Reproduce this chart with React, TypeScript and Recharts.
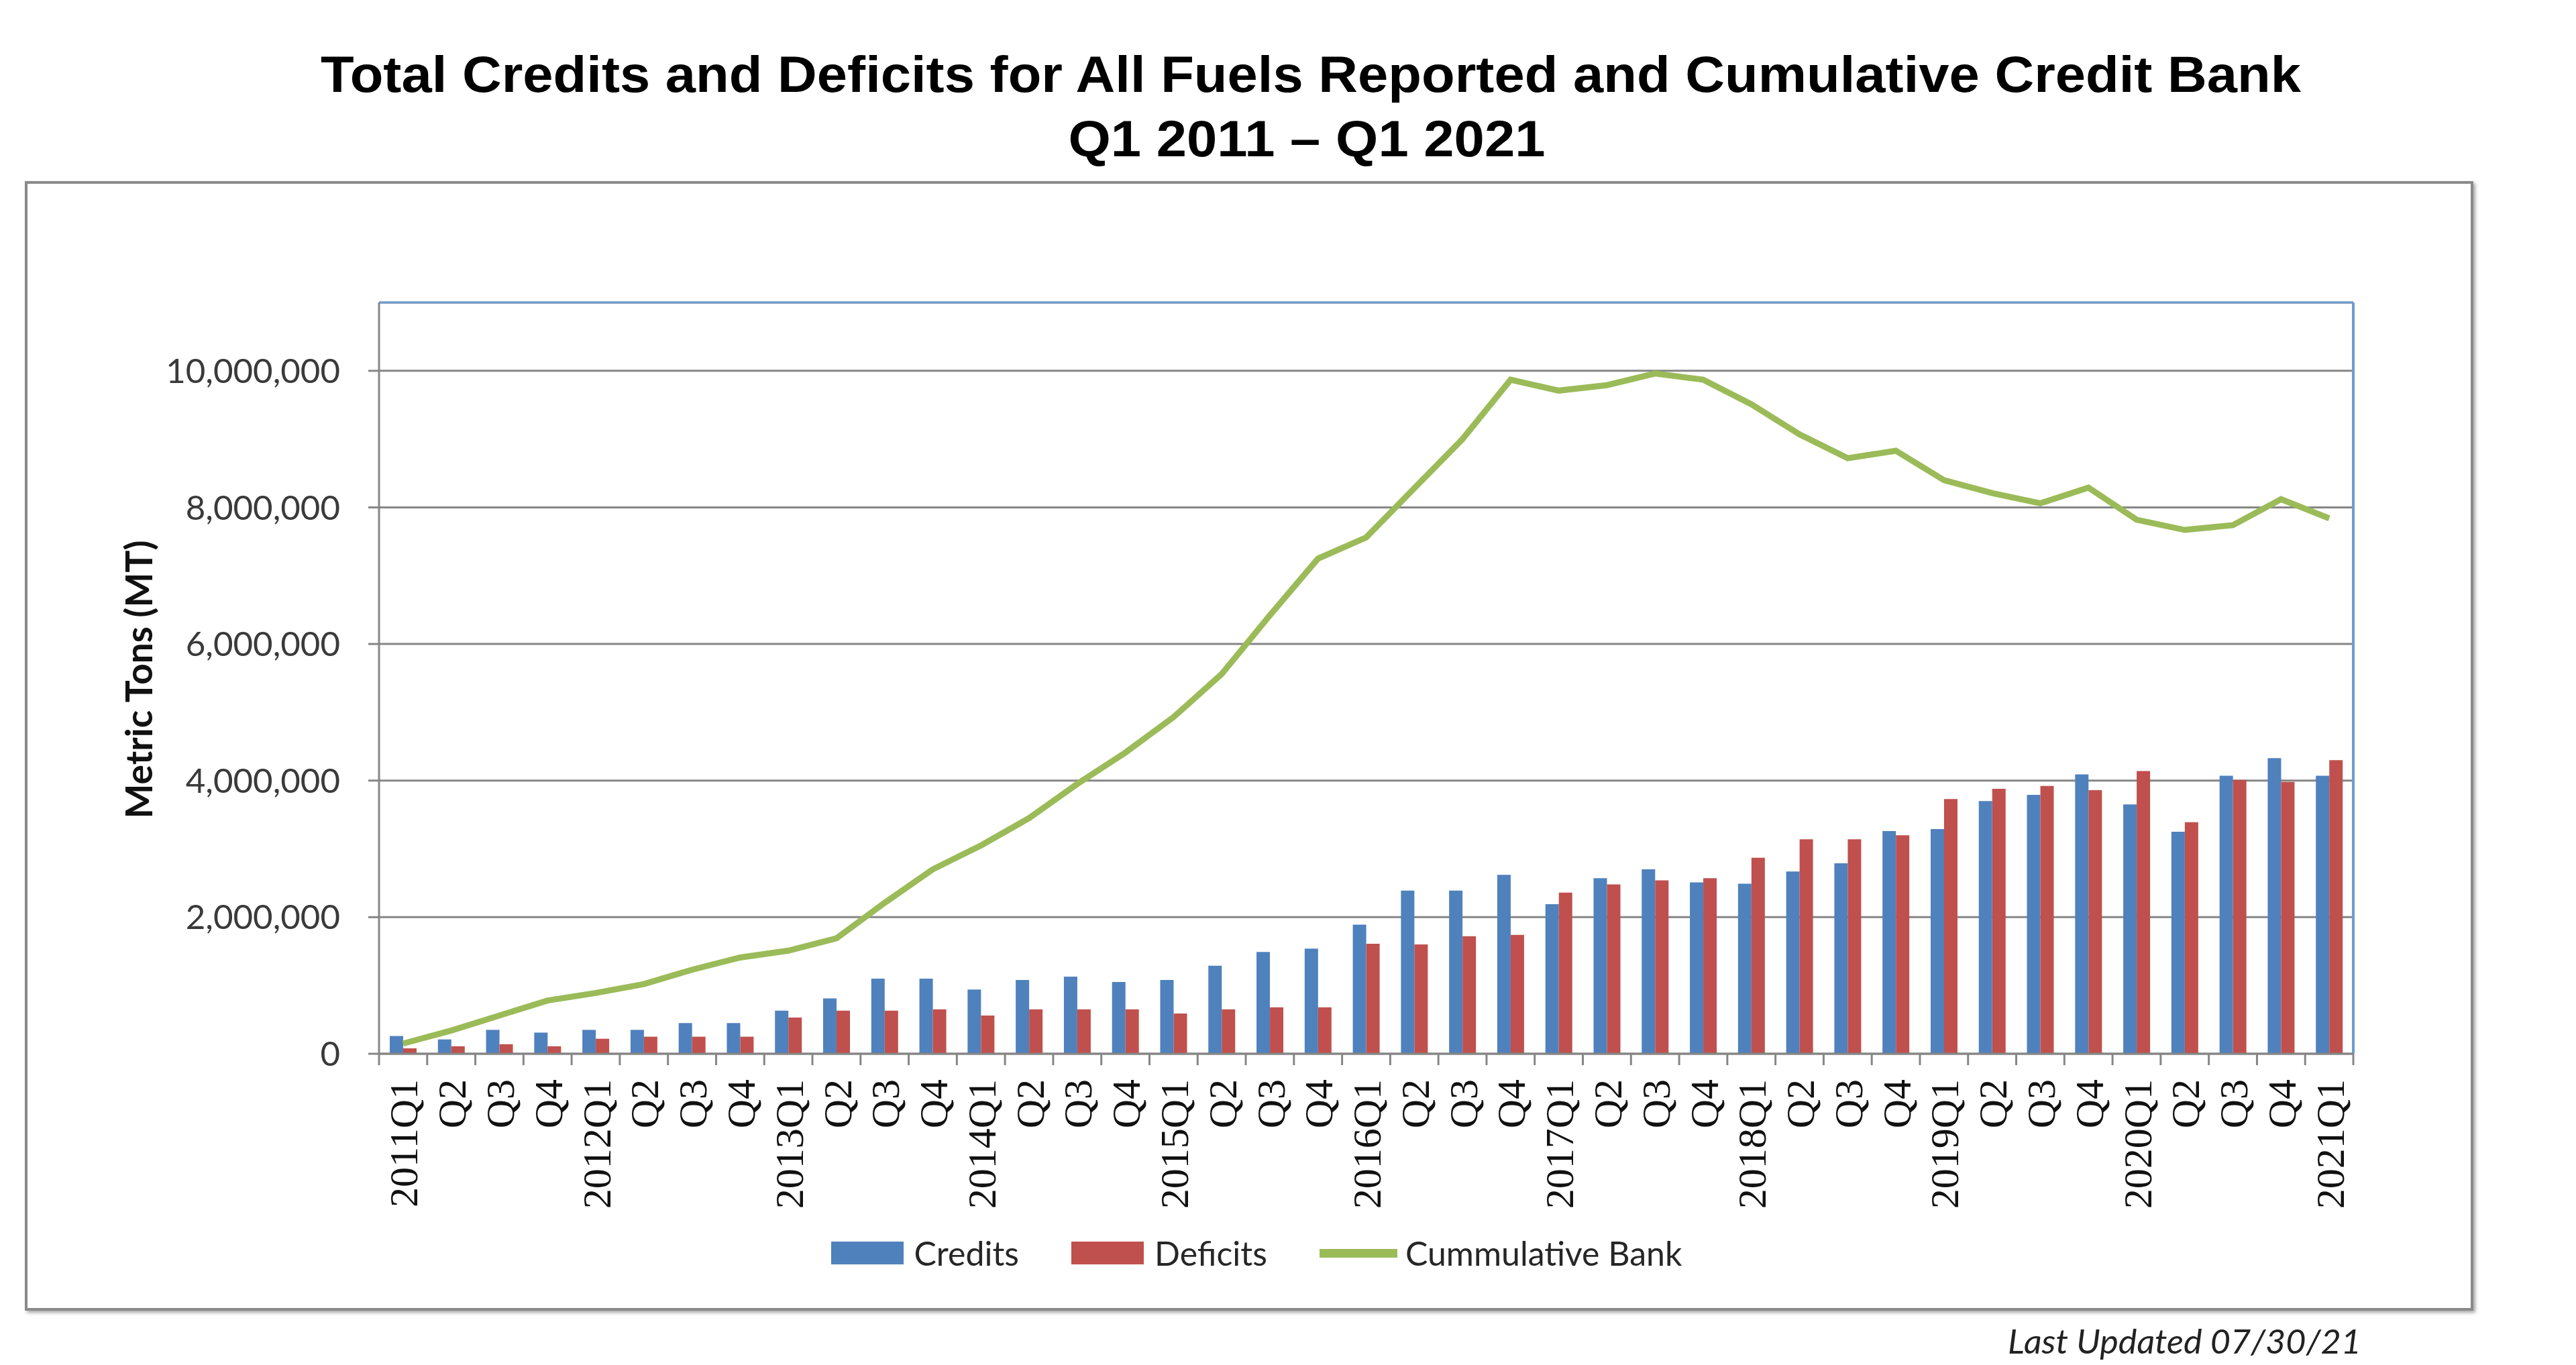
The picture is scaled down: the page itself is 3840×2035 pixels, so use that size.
import React from 'react';
import {
  ComposedChart, Bar, Line, XAxis, YAxis, CartesianGrid, Legend, ReferenceLine,
} from 'recharts';

// ---------- data ----------
const quarters = [
  '2011Q1', '2011Q2', '2011Q3', '2011Q4',
  '2012Q1', '2012Q2', '2012Q3', '2012Q4',
  '2013Q1', '2013Q2', '2013Q3', '2013Q4',
  '2014Q1', '2014Q2', '2014Q3', '2014Q4',
  '2015Q1', '2015Q2', '2015Q3', '2015Q4',
  '2016Q1', '2016Q2', '2016Q3', '2016Q4',
  '2017Q1', '2017Q2', '2017Q3', '2017Q4',
  '2018Q1', '2018Q2', '2018Q3', '2018Q4',
  '2019Q1', '2019Q2', '2019Q3', '2019Q4',
  '2020Q1', '2020Q2', '2020Q3', '2020Q4',
  '2021Q1',
];

const tickLabels = [
  '2011Q1', 'Q2', 'Q3', 'Q4',
  '2012Q1', 'Q2', 'Q3', 'Q4',
  '2013Q1', 'Q2', 'Q3', 'Q4',
  '2014Q1', 'Q2', 'Q3', 'Q4',
  '2015Q1', 'Q2', 'Q3', 'Q4',
  '2016Q1', 'Q2', 'Q3', 'Q4',
  '2017Q1', 'Q2', 'Q3', 'Q4',
  '2018Q1', 'Q2', 'Q3', 'Q4',
  '2019Q1', 'Q2', 'Q3', 'Q4',
  '2020Q1', 'Q2', 'Q3', 'Q4',
  '2021Q1',
];

const credits = [
  260000, 210000, 350000, 310000,
  350000, 350000, 450000, 450000,
  630000, 810000, 1100000, 1100000,
  940000, 1080000, 1130000, 1050000,
  1080000, 1290000, 1490000, 1540000,
  1890000, 2390000, 2390000, 2620000,
  2190000, 2570000, 2700000, 2510000,
  2490000, 2670000, 2790000, 3260000,
  3290000, 3700000, 3790000, 4090000,
  3650000, 3250000, 4070000, 4330000,
  4070000,
];

const deficits = [
  80000, 110000, 140000, 110000,
  220000, 250000, 250000, 250000,
  530000, 630000, 630000, 650000,
  560000, 650000, 650000, 650000,
  590000, 650000, 680000, 680000,
  1610000, 1600000, 1720000, 1740000,
  2360000, 2480000, 2540000, 2570000,
  2870000, 3140000, 3140000, 3200000,
  3730000, 3880000, 3920000, 3860000,
  4140000, 3390000, 4010000, 3980000,
  4300000,
];

const bank = [
  150000, 340000, 560000, 780000,
  890000, 1020000, 1230000, 1410000,
  1510000, 1690000, 2210000, 2700000,
  3050000, 3450000, 3950000, 4410000,
  4930000, 5560000, 6420000, 7250000,
  7560000, 8280000, 9000000, 9870000,
  9710000, 9790000, 9960000, 9870000,
  9510000, 9070000, 8720000, 8830000,
  8400000, 8210000, 8060000, 8290000,
  7820000, 7670000, 7740000, 8120000,
  7840000,
];

const yTicks = [0, 2000000, 4000000, 6000000, 8000000, 10000000];
const yMax = 11000000;

const legendOrder = ['Credits', 'Deficits', 'Cummulative Bank'];

const data = quarters.map((q, i) => ({
  q,
  credits: credits[i],
  deficits: deficits[i],
  bank: bank[i],
}));

// ---------- style ----------
const W = 3840;
const H = 2035;
const AXIS = '#868686';
const BLUE = '#4F81BD';
const RED = '#C0504D';
const GREEN = '#9BBB59';
const FRAME_BLUE = '#6F9BD1';

const XTick = (props: any) => {
  const { x, y, payload, index } = props;
  const off = payload && typeof payload.offset === 'number' ? payload.offset : 0;
  const i = typeof index === 'number' ? index : quarters.indexOf(payload.value);
  const label = tickLabels[i] ?? payload.value;
  const ty = y + 38;
  return (
    <g>
      <line x1={x - off} y1={y} x2={x - off} y2={y + 17} stroke={AXIS} strokeWidth={3} />
      {i === quarters.length - 1 && (
        <line x1={x + off} y1={y} x2={x + off} y2={y + 17} stroke={AXIS} strokeWidth={3} />
      )}
      <text
        x={x}
        y={ty}
        transform={`rotate(-90 ${x} ${ty})`}
        textAnchor="end"
        dy="0.36em"
        fontFamily="'Liberation Serif', serif"
        fontSize={60}
        fill="#111"
      >
        {label}
      </text>
    </g>
  );
};

const renderLegend = (props: any) => {
  const payload = [...(props.payload || [])].sort(
    (a: any, b: any) => legendOrder.indexOf(a.value) - legendOrder.indexOf(b.value),
  );
  return (
    <div
      style={{
        display: 'flex',
        justifyContent: 'center',
        alignItems: 'center',
        fontFamily: 'Lato, sans-serif',
        fontSize: 50,
        color: '#262626',
        height: 60,
      }}
    >
      {payload.map((p: any, k: number) => (
        <div
          key={k}
          style={{ display: 'flex', alignItems: 'center', marginRight: k < payload.length - 1 ? 78 : 0 }}
        >
          {p.type === 'line' ? (
            <div style={{ width: 116, height: 13, background: p.color, marginRight: 12 }} />
          ) : (
            <div style={{ width: 108, height: 34, background: p.color, marginRight: 16 }} />
          )}
          <span>{p.value}</span>
        </div>
      ))}
    </div>
  );
};

export default function App() {
  return (
    <div
      style={{
        position: 'absolute',
        left: 0,
        top: 0,
        width: W,
        height: H,
        background: '#fff',
        overflow: 'hidden',
      }}
    >
      {/* outer frame */}
      <div
        style={{
          position: 'absolute',
          left: 37,
          top: 270,
          width: 3650,
          height: 1684,
          border: '4px solid #8a8a8a',
          boxShadow: '3px 3px 5px rgba(0,0,0,0.35)',
          boxSizing: 'border-box',
        }}
      />

      <div style={{ position: 'absolute', left: 0, top: 0 }}>
        <ComposedChart
          width={W}
          height={H}
          data={data}
          margin={{ top: 451, right: 332, bottom: 214, left: 0 }}
          barGap={0}
        >
          <CartesianGrid vertical={false} stroke={AXIS} strokeWidth={3} yAxisId="left" />
          <XAxis
            dataKey="q"
            interval={0}
            height={250}
            tickSize={0}
            tickMargin={0}
            tickLine={false}
            axisLine={{ stroke: AXIS, strokeWidth: 3 }}
            tick={<XTick />}
          />
          <YAxis
            yAxisId="left"
            width={565}
            domain={[0, yMax]}
            ticks={yTicks}
            interval={0}
            allowDataOverflow
            tickFormatter={(v: number) => v.toLocaleString('en-US')}
            tick={{ fill: '#3a3a3a', fontSize: 51, fontFamily: 'Lato, sans-serif' }}
            tickSize={16}
            tickMargin={42}
            tickLine={{ stroke: AXIS, strokeWidth: 3 }}
            axisLine={{ stroke: AXIS, strokeWidth: 3 }}
          />
          <ReferenceLine yAxisId="left" y={yMax} stroke={FRAME_BLUE} strokeWidth={3} />
          <ReferenceLine
            yAxisId="left"
            x={quarters[quarters.length - 1]}
            position="end"
            stroke={FRAME_BLUE}
            strokeWidth={4}
          />
          <Bar
            yAxisId="left"
            dataKey="credits"
            name="Credits"
            fill={BLUE}
            barSize={20}
            isAnimationActive={false}
          />
          <Bar
            yAxisId="left"
            dataKey="deficits"
            name="Deficits"
            fill={RED}
            barSize={20}
            isAnimationActive={false}
          />
          <Line
            yAxisId="left"
            dataKey="bank"
            name="Cummulative Bank"
            type="linear"
            stroke={GREEN}
            strokeWidth={9}
            dot={false}
            activeDot={false}
            isAnimationActive={false}
          />
          <Legend
            verticalAlign="middle"
            align="center"
            layout="horizontal"
            wrapperStyle={{ top: 1838, left: -47, width: W }}
            content={renderLegend}
          />
        </ComposedChart>
      </div>

      {/* titles and labels */}
      <svg
        width={W}
        height={H}
        style={{ position: 'absolute', left: 0, top: 0, pointerEvents: 'none' }}
      >
        <text
          x={1954}
          y={137}
          textAnchor="middle"
          fontFamily="'Liberation Sans', Arial, sans-serif"
          fontWeight="bold"
          fontSize={76}
          textLength={2952}
          lengthAdjust="spacingAndGlyphs"
          fill="#000"
        >
          Total Credits and Deficits for All Fuels Reported and Cumulative Credit Bank
        </text>
        <text
          x={1948}
          y={233}
          textAnchor="middle"
          fontFamily="'Liberation Sans', Arial, sans-serif"
          fontWeight="bold"
          fontSize={76}
          textLength={711}
          lengthAdjust="spacingAndGlyphs"
          fill="#000"
        >
          Q1 2011 – Q1 2021
        </text>
        <text
          x={207}
          y={1013}
          transform="rotate(-90 207 1013)"
          textAnchor="middle"
          dy="0.36em"
          fontFamily="Lato, sans-serif"
          fontWeight="bold"
          fontSize={55}
          fill="#111"
        >
          Metric Tons (MT)
        </text>
        <text
          x={2993}
          y={2018}
          fontFamily="Lato, sans-serif"
          fontStyle="italic"
          fontSize={50}
          textLength={527}
          lengthAdjust="spacingAndGlyphs"
          fill="#222"
        >
          Last Updated 07/30/21
        </text>
      </svg>
    </div>
  );
}
